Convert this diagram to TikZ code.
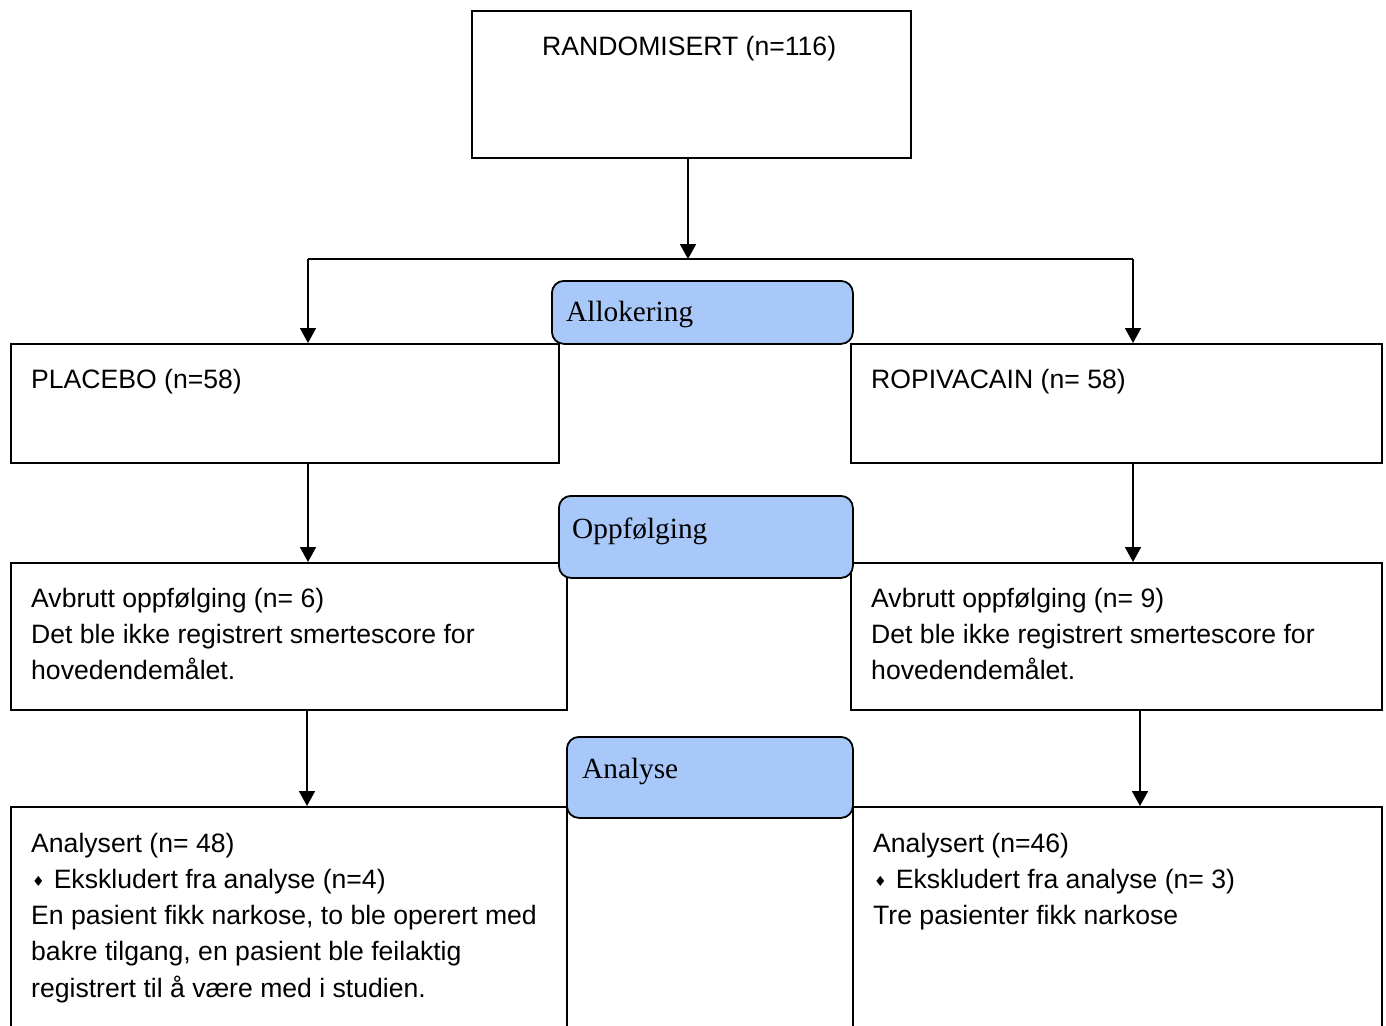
\documentclass[tikz,border=0pt]{standalone}
\usepackage{fontspec}
\setmainfont{Liberation Sans}
\newfontfamily\serifl{Liberation Serif}
\newfontfamily\dejavu{DejaVu Sans}
\usetikzlibrary{arrows.meta}
\definecolor{labblue}{HTML}{A9C8FA}
\tikzset{
  box/.style={draw=black, line width=1.8pt, fill=white, inner sep=0pt, anchor=north west},
  lab/.style={draw=black, line width=1.8pt, fill=labblue, rounded corners=12pt, inner sep=0pt, anchor=north west},
  txt/.style={inner sep=0pt, anchor=north west, align=left, font=\fontsize{26.6}{36.2}\selectfont},
  labtxt/.style={inner sep=0pt, anchor=base west, font=\serifl\fontsize{29.3}{35}\selectfont},
  arr/.style={line width=1.8pt, -{Triangle[length=15pt,width=16pt]}},
  ln/.style={line width=1.8pt}
}
\newcommand{\dia}{\hspace{1pt}{\dejavu\fontsize{14}{14}\selectfont\raisebox{2pt}{♦}}\hspace{9pt}}
\begin{document}
\begin{tikzpicture}[x=1pt,y=-1pt]
\clip (0,0) rectangle (1386,1025);
\fill[white] (0,0) rectangle (1386,1025);
% boxes
\node[box, minimum width=439, minimum height=147] (rand) at (471,10) {};
\node[box, minimum width=548, minimum height=119] (plac) at (10,343) {};
\node[box, minimum width=531, minimum height=119] (ropi) at (850,343) {};
\node[box, minimum width=556, minimum height=147] (avl) at (10,562) {};
\node[box, minimum width=531, minimum height=147] (avr) at (850,562) {};
\node[box, minimum width=556, minimum height=260] (anl) at (10,806) {};
\node[box, minimum width=529, minimum height=260] (anr) at (852,806) {};
% label boxes
\node[lab, minimum width=301, minimum height=63] (allo) at (551,280) {};
\node[lab, minimum width=294, minimum height=82] (oppf) at (558,495) {};
\node[lab, minimum width=286, minimum height=81] (anal) at (566,736) {};
% texts
\node[txt] (t1) at (542,30.3) {\strut RANDOMISERT (n=116)};
\node[txt] (t2) at (31,362.8) {\strut PLACEBO (n=58)};
\node[txt] (t3) at (871,362.8) {\strut ROPIVACAIN (n= 58)};
\node[txt] (t4) at (31,581.8) {\strut Avbrutt oppfølging (n= 6)\\Det ble ikke registrert smertescore for\\hovedendemålet.};
\node[txt] (t5) at (871,581.8) {\strut Avbrutt oppfølging (n= 9)\\Det ble ikke registrert smertescore for\\hovedendemålet.};
\node[txt] (t6) at (31,826.8) {\strut Analysert (n= 48)\\\dia Ekskludert fra analyse (n=4)\\En pasient fikk narkose, to ble operert med\\bakre tilgang, en pasient ble feilaktig\\registrert til å være med i studien.};
\node[txt] (t7) at (873,826.8) {\strut Analysert (n=46)\\\dia Ekskludert fra analyse (n= 3)\\Tre pasienter fikk narkose};
\node[labtxt] (l1) at (566,321) {Allokering};
\node[labtxt] (l2) at (572,538) {Oppfølging};
\node[labtxt] (l3) at (582,778) {Analyse};
% connectors
\coordinate (split) at (688,259);
\coordinate (jl) at (308,259);
\coordinate (jr) at (1133,259);
\coordinate (kl) at (307,0);
\coordinate (kr) at (1140,0);
\draw[arr] (rand.south -| split) -- (split);
\draw[ln] (jl) -- (jr);
\draw[arr] (jl) -- (plac.north -| jl);
\draw[arr] (jr) -- (ropi.north -| jr);
\draw[arr] (plac.south -| jl) -- (avl.north -| jl);
\draw[arr] (ropi.south -| jr) -- (avr.north -| jr);
\draw[arr] (avl.south -| kl) -- (anl.north -| kl);
\draw[arr] (avr.south -| kr) -- (anr.north -| kr);
\end{tikzpicture}
\end{document}
